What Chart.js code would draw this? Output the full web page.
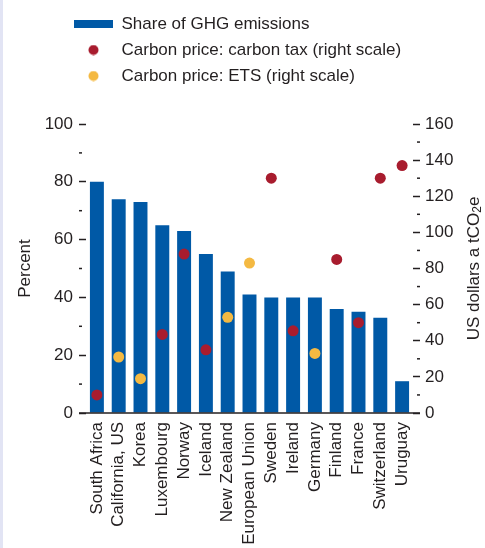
<!DOCTYPE html>
<html lang="en">
<head>
	<meta charset="UTF-8">
	<script src="https://cdn.jsdelivr.net/npm/chart.js@4.4.1/dist/chart.umd.min.js"></script>
	<title>Carbon pricing coverage</title>
	<style>
		body { margin: 0; background: #fff; }
	</style>
</head>
<body>
	<canvas id="myChart" width="485" height="548"></canvas>
	<script>
		// values
		let countries = ["South Africa", "California, US", "Korea", "Luxembourg", "Norway", "Iceland",
			"New Zealand", "European Union", "Sweden", "Ireland", "Germany", "Finland", "France",
			"Switzerland", "Uruguay"];
		let share = [80, 74, 73, 65, 63, 55, 49, 41, 40, 40, 40, 36, 35, 33, 11];
		let carbonTax = [10, null, null, 43.5, 88, 35, null, null, 130, 45.5, null, 85, 50, 130, 137];
		let ets = [null, 31, 19, null, null, null, 53, 83, null, null, 33, null, null, null, null];

		let ink = "#231f20";
		let blue = "#0059a6";
		let red = "#a81c2e";
		let yellow = "#f4b942";
		let font = "'Liberation Sans Narrow', 'Arial Narrow', 'Liberation Sans', Arial, sans-serif";
		let fs = 17;

		// small legend markers: a wide bar swatch and round dots
		function swatch(color) {
			let c = document.createElement("canvas");
			c.width = 39;
			c.height = 8;
			let g = c.getContext("2d");
			g.fillStyle = color;
			g.fillRect(0, 0, 39, 8);
			return c;
		}
		function dot(color) {
			let c = document.createElement("canvas");
			c.width = 11;
			c.height = 11;
			let g = c.getContext("2d");
			g.fillStyle = color;
			g.beginPath();
			g.arc(5.5, 5.5, 5, 0, Math.PI * 2);
			g.fill();
			return c;
		}
		let markers = [swatch(blue), dot(red), dot(yellow)];

		let extras = {
			id: "extras",
			afterLayout(chart) {
				// legend sits over the left axis in the original
				let lg = chart.legend;
				lg.left += 65;
				lg.right += 65;
				lg.top -= 29.5;
				lg.bottom -= 29.5;
			},
			beforeDraw(chart) {
				let ctx = chart.ctx;
				ctx.save();
				ctx.fillStyle = "#e2e4f4";
				ctx.fillRect(0, 0, 3, chart.height);
				ctx.restore();
			},
			afterDraw(chart) {
				let ctx = chart.ctx;
				let a = chart.chartArea;
				let y = chart.scales.y;
				let y1 = chart.scales.y1;
				ctx.save();
				ctx.strokeStyle = ink;
				ctx.lineWidth = 1.5;
				let line = (x0, y0, x2, y2) => {
					ctx.beginPath();
					ctx.moveTo(x0, y0);
					ctx.lineTo(x2, y2);
					ctx.stroke();
				};
				// minor ticks halfway between the labelled ones
				for (let i = 1; i < y.ticks.length; i++) {
					let py = y.getPixelForValue((y.ticks[i - 1].value + y.ticks[i].value) / 2);
					line(a.left - 7, py, a.left - 4, py);
				}
				for (let i = 1; i < y1.ticks.length; i++) {
					let py = y1.getPixelForValue((y1.ticks[i - 1].value + y1.ticks[i].value) / 2);
					line(a.right + 4, py, a.right + 7, py);
				}
				// baseline
				let by = y.getPixelForValue(0);
				line(a.left - 7, by, a.right + 7, by);

				// right axis title, reads upwards, with subscript
				ctx.fillStyle = ink;
				ctx.translate(474, (a.top + a.bottom) / 2);
				ctx.rotate(-Math.PI / 2);
				ctx.textBaseline = "middle";
				ctx.textAlign = "left";
				let big = fs + "px " + font;
				let small = Math.round(fs * 0.7) + "px " + font;
				ctx.font = big;
				let w1 = ctx.measureText("US dollars a tCO").width;
				let w3 = ctx.measureText("e").width;
				ctx.font = small;
				let w2 = ctx.measureText("2").width;
				let x = -(w1 + w2 + w3) / 2;
				ctx.font = big;
				ctx.fillText("US dollars a tCO", x, 0);
				ctx.font = small;
				ctx.fillText("2", x + w1, 4);
				ctx.font = big;
				ctx.fillText("e", x + w1 + w2, 0);
				ctx.restore();
			}
		};

		new Chart("myChart", {
			type: "bar",
			data: {
				labels: countries,
				datasets: [{
					label: "Share of GHG emissions",
					data: share,
					backgroundColor: blue,
					barPercentage: 0.64,
					categoryPercentage: 1,
					yAxisID: "y",
					order: 2
				}, {
					type: "line",
					label: "Carbon price: carbon tax (right scale)",
					data: carbonTax,
					showLine: false,
					backgroundColor: red,
					pointBackgroundColor: red,
					pointBorderWidth: 0,
					pointRadius: 5.5,
					yAxisID: "y1",
					order: 1
				}, {
					type: "line",
					label: "Carbon price: ETS (right scale)",
					data: ets,
					showLine: false,
					backgroundColor: yellow,
					pointBackgroundColor: yellow,
					pointBorderWidth: 0,
					pointRadius: 5.5,
					yAxisID: "y1",
					order: 1
				}]
			},
			options: {
				responsive: false,
				animation: false,
				layout: { padding: { top: 36, left: 0, right: 0, bottom: 0 } },
				plugins: {
					tooltip: { enabled: false },
					legend: {
						position: "top",
						align: "start",
						labels: {
							color: ink,
							font: { family: font, size: fs },
							usePointStyle: true,
							pointStyleWidth: 39,
							boxHeight: 8,
							padding: 9,
							sort: (a, b) => a.datasetIndex - b.datasetIndex,
							generateLabels(chart) {
								let items = Chart.defaults.plugins.legend.labels.generateLabels(chart);
								items.forEach(it => {
									it.pointStyle = markers[it.datasetIndex];
									it.lineWidth = 0;
									it.strokeStyle = "transparent";
								});
								return items;
							}
						}
					}
				},
				scales: {
					x: {
						afterFit(scale) { scale.height = 135; },
						grid: { display: false, drawTicks: false },
						border: { display: false },
						ticks: {
							color: ink,
							font: { family: font, size: fs },
							minRotation: 90,
							maxRotation: 90,
							autoSkip: false,
							padding: 9
						}
					},
					y: {
						position: "left",
						min: 0,
						max: 100,
						afterFit(scale) { scale.width = 86; },
						title: {
							display: true,
							text: "Percent",
							color: ink,
							font: { family: font, size: fs },
							padding: { top: 15, bottom: 0 }
						},
						grid: { drawOnChartArea: false, tickLength: 7, tickColor: ink, tickWidth: 1.5 },
						border: { display: false },
						ticks: { stepSize: 20, color: ink, font: { family: font, size: fs }, padding: 6 }
					},
					y1: {
						position: "right",
						min: 0,
						max: 160,
						afterFit(scale) { scale.width = 72; },
						grid: { drawOnChartArea: false, tickLength: 7, tickColor: ink, tickWidth: 1.5 },
						border: { display: false },
						ticks: { stepSize: 20, color: ink, font: { family: font, size: fs }, padding: 5 }
					}
				}
			},
			plugins: [extras]
		});
	</script>
</body>
</html>
